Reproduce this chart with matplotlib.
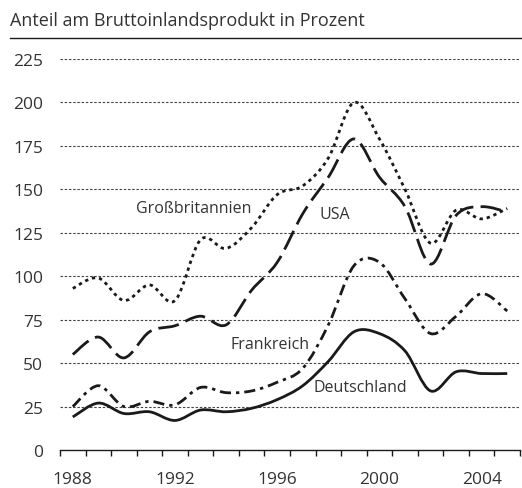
import matplotlib
matplotlib.use('Agg')
import matplotlib.pyplot as plt
from matplotlib.path import Path
from matplotlib.patches import PathPatch
from matplotlib.lines import Line2D
import numpy as np

plt.rcParams['font.family'] = ['Open Sans', 'DejaVu Sans']

# Jahre (Werte jeweils zur Jahresmitte)
jahre = list(range(1988, 2006))

grossbritannien = [93, 99, 86, 95, 86, 121, 116, 128, 147, 152, 168, 200, 179, 150, 119, 138, 133, 139]
usa = [55, 65, 53, 68, 71.5, 77, 72, 92, 108, 136, 157, 179, 157, 140, 107, 135, 140, 137]
frankreich = [25, 37, 25, 28, 26, 36, 33, 34, 39, 47, 72, 106, 108, 87, 67, 77, 90, 80]
deutschland = [19, 27, 21, 22, 17, 23, 22, 24, 29, 37, 51, 68, 67, 57, 34, 45, 44, 44]

y_ticks = [0, 25, 50, 75, 100, 125, 150, 175, 200, 225]
x_labels = [1988, 1992, 1996, 2000, 2004]

titel = 'Anteil am Bruttoinlandsprodukt in Prozent'
beschriftungen = [('Großbritannien', 1993.25, 139), ('USA', 1998.75, 136),
                  ('Frankreich', 1996.2, 61), ('Deutschland', 1999.75, 36)]

farbe = '#1a1a1a'
textfarbe = '#333333'


def glatter_pfad(xs, ys):
    # Catmull-Rom-Kurve als Bezier-Segmente
    n = len(xs)
    verts = [(xs[0], ys[0])]
    codes = [Path.MOVETO]
    for i in range(n - 1):
        a = max(i - 1, 0)
        d = min(i + 2, n - 1)
        c1 = (xs[i] + (xs[i + 1] - xs[a]) / 6, ys[i] + (ys[i + 1] - ys[a]) / 6)
        c2 = (xs[i + 1] - (xs[d] - xs[i]) / 6, ys[i + 1] - (ys[d] - ys[i]) / 6)
        verts += [c1, c2, (xs[i + 1], ys[i + 1])]
        codes += [Path.CURVE4] * 3
    return Path(verts, codes)


fig = plt.figure(figsize=(5.22, 4.89), dpi=100)
ax = fig.add_axes([60 / 522, 1 - 451 / 489, 460 / 522, 391 / 489])

xs = [j + 0.5 for j in jahre]
serien = [
    (grossbritannien, (0, (1.2, 1.4))),
    (usa, (0, (7.5, 2.6))),
    (frankreich, (0, (4, 1.8, 1.2, 1.8))),
    (deutschland, 'solid'),
]
for werte, stil in serien:
    patch = PathPatch(glatter_pfad(xs, werte), fill=False, edgecolor=farbe,
                      lw=2.0, linestyle=stil, capstyle='butt', joinstyle='round')
    ax.add_patch(patch)

for y in y_ticks[1:]:
    ax.axhline(y, color='#444444', lw=0.8, linestyle=(0, (2.2, 1.6)), zorder=0)

ax.set_xlim(1988, 2006)
ax.set_ylim(0, 225)

for s in ['top', 'right', 'left']:
    ax.spines[s].set_visible(False)
ax.spines['bottom'].set_color(farbe)
ax.spines['bottom'].set_linewidth(1.0)

ax.set_yticks(y_ticks)
ax.set_yticklabels([str(v) for v in y_ticks])
ax.tick_params(axis='y', length=0, pad=12, labelsize=12.5, labelcolor=textfarbe)

ax.set_xticks(list(range(1988, 2007)))
ax.set_xticklabels([])
ax.set_xticks([j + 0.5 for j in x_labels], minor=True)
ax.set_xticklabels([str(j) for j in x_labels], minor=True)
ax.tick_params(axis='x', which='major', direction='out', length=4.5, width=1.0, color=farbe)
ax.tick_params(axis='x', which='minor', length=0, pad=15, labelsize=12.5, labelcolor=textfarbe)

for text, x, y in beschriftungen:
    ax.text(x, y, text, ha='center', va='center', fontsize=11.5, color=textfarbe)

fig.text(10 / 522, 1 - 21 / 489, titel, ha='left', va='center', fontsize=13, color=textfarbe)
fig.add_artist(Line2D([10 / 522, 1], [1 - 39 / 489, 1 - 39 / 489], color=farbe, lw=1.0))

fig.savefig('out.png', dpi=100)
